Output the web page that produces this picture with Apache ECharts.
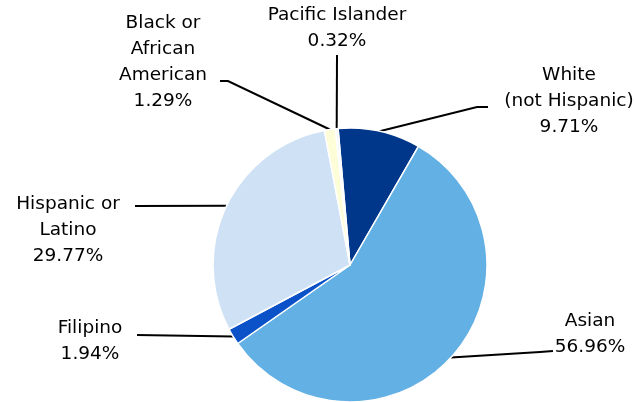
<!DOCTYPE html>
<html>
<head>
<meta charset="utf-8">
<script src="https://cdn.jsdelivr.net/npm/echarts@6/dist/echarts.min.js"></script>
<style>html,body{margin:0;padding:0;background:#fff}#c{width:634px;height:402px}</style>
</head>
<body>
<div id="c"></div>
<script>
const categories = ['White\n(not Hispanic)', 'Asian', 'Filipino', 'Hispanic or\nLatino', 'Black or\nAfrican\nAmerican', 'Pacific Islander'];
const values = [9.71, 56.96, 1.94, 29.77, 1.29, 0.32];
const colors = ['#00378a', '#63b0e4', '#0b52c9', '#cfe2f5', '#fdfdd8', '#f4f8fc'];
// label block centres and label-line bend/end points (layout only)
const labelPos = [[569, 101], [590, 334], [90, 341], [68, 230], [163, 62], [337, 28]];
const lineBends = [[[477, 107], [488, 107]], [[540, 352], [553, 351]], [[137, 335]], [[135, 206]], [[228, 81], [220, 81]], [[337, 55]]];

const chart = echarts.init(document.getElementById('c'));
chart.setOption({
  animation: false,
  series: [{
    type: 'pie',
    center: [350, 265],
    radius: 137,
    startAngle: 95,
    clockwise: true,
    avoidLabelOverlap: false,
    itemStyle: { borderColor: '#ffffff', borderWidth: 1.5 },
    label: {
      show: true,
      position: 'outside',
      formatter: p => p.name + '\n' + p.value.toFixed(2) + '%',
      fontFamily: 'DejaVu Sans',
      fontSize: 18.5,
      lineHeight: 26,
      color: '#000',
      align: 'center'
    },
    labelLine: { show: true, lineStyle: { color: '#000', width: 2 } },
    labelLayout: function (params) {
      const i = params.dataIndex;
      const start = params.labelLinePoints ? params.labelLinePoints[0] : null;
      const pts = start ? [start].concat(lineBends[i]) : undefined;
      return {
        x: labelPos[i][0],
        y: labelPos[i][1],
        align: 'center',
        verticalAlign: 'middle',
        labelLinePoints: pts
      };
    },
    data: categories.map((c, i) => ({ name: c, value: values[i], itemStyle: { color: colors[i] } }))
  }]
});
</script>
</body>
</html>
